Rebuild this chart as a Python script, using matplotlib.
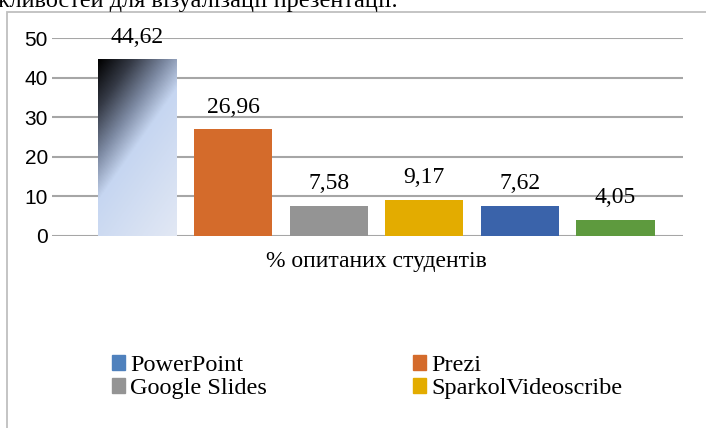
import numpy as np
import matplotlib
matplotlib.use("Agg")
import matplotlib.pyplot as plt
from matplotlib.colors import LinearSegmentedColormap
from matplotlib.patches import Patch, Rectangle

# data
tools = ["PowerPoint", "Prezi", "Google Slides", "SparkolVideoscribe", "Tool 5", "Tool 6"]
shares = [44.62, 26.96, 7.58, 9.17, 7.62, 4.05]
labels = ["44,62", "26,96", "7,58", "9,17", "7,62", "4,05"]
category = "% опитаних студентів"
legend_names = ["PowerPoint", "Prezi", "Google Slides", "SparkolVideoscribe"]
heading = "можливостей для візуалізації презентації."

colors = ["#4F81BD", "#D46B2B", "#949494", "#E3AC00", "#3A63AA", "#5E9A3E"]
serif = "Liberation Serif"

W, H = 706, 428
fig = plt.figure(figsize=(W / 100, H / 100), dpi=100)
ax = fig.add_axes([52 / W, 1 - 236 / H, (683 - 52) / W, (236 - 38) / H])

# word document frame and the cut heading above it
fig.add_artist(Rectangle((7 / W, -0.1), 1.2, 1 - 12 / H + 0.1, transform=fig.transFigure,
                         fill=False, edgecolor="#BFBFBF", lw=1.3))
fig.text(398 / W, 1 - 7 / H, heading, ha="right", va="baseline",
         family=serif, fontsize=17.5)

x = np.arange(len(shares))
bars = ax.bar(x, shares, width=0.816, color=colors, zorder=3)

# gradient fill for the first bar
b = bars[0]
b.set_facecolor("none")
grad = LinearSegmentedColormap.from_list(
    "g", [(0, "#000000"), (0.17, "#353A46"), (0.34, "#7D8AA3"), (0.49, "#C6D6F1"), (1, "#E2E8F4")])
u, v = np.meshgrid(np.linspace(0, 1, 80), np.linspace(0, 1, 200))
t = 0.79 * u + 1.25 * v
im = ax.imshow(t, cmap=grad, vmin=0, vmax=2.04, aspect="auto", zorder=3,
               extent=(b.get_x(), b.get_x() + b.get_width(), 0, b.get_height()),
               origin="upper", interpolation="bilinear")
im.set_clip_path(b)

for bar, lab in zip(bars, labels):
    ax.annotate(lab, (bar.get_x() + bar.get_width() / 2, bar.get_height()),
                xytext=(0, 12), textcoords="offset points", ha="center", va="baseline",
                family=serif, fontsize=17, clip_on=False, zorder=4)

ax.set_xlim(-0.894, 5.706)
ax.set_ylim(0, 50)
ax.set_yticks(range(0, 51, 10))
ax.yaxis.grid(True, color="#A6A6A6", lw=1.5, zorder=0)
ax.set_axisbelow(True)
for s in ax.spines.values():
    s.set_visible(False)
ax.tick_params(axis="y", length=0, pad=3, labelsize=15)
for lab in ax.get_yticklabels():
    lab.set_family("Liberation Sans")
ax.set_xticks([2.5])
ax.set_xticklabels([category], family=serif, fontsize=17)
ax.tick_params(axis="x", length=0, pad=11)

handles = [Patch(color=colors[i], label=legend_names[i]) for i in [0, 2, 1, 3]]
fig.legend(handles=handles, ncol=2, loc="upper left", bbox_to_anchor=(112 / W, 1 - 355 / H),
           frameon=False, prop={"family": serif, "size": 17.5},
           handlelength=0.55, handleheight=0.55, handletextpad=0.2, columnspacing=6.0,
           labelspacing=0.08, borderpad=0, borderaxespad=0)

fig.savefig("out.png", dpi=100)
